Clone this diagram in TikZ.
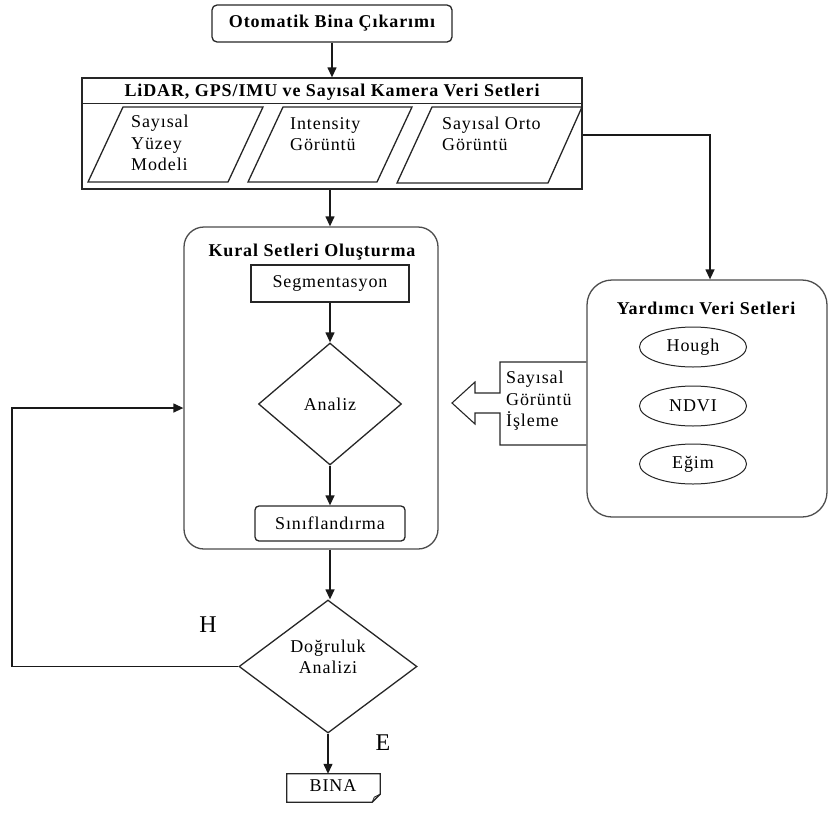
\documentclass[tikz,border=0pt]{standalone}
\usepackage{fontspec}
\setmainfont{Liberation Serif}[LetterSpace=5]
\newfontfamily\plainserif{Liberation Serif}
\usetikzlibrary{arrows.meta,shapes.geometric}
\begin{document}
\begin{tikzpicture}[x=1pt,y=-1pt,
  line/.style={draw=black!85, line width=1.3pt},
  soft/.style={draw=black!70, line width=1.3pt},
  arr/.style={draw=black!90, line width=1.3pt, -{Triangle[length=10pt,width=9pt]}},
  txt/.style={font=\fontsize{18}{21.5}\selectfont, inner sep=0pt},
  ttl/.style={font=\bfseries\fontsize{18}{20}\selectfont, inner sep=0pt},
  big/.style={font=\plainserif\fontsize{24}{24}\selectfont, inner sep=0pt},
]
\useasboundingbox (0,0) rectangle (830,812);
\coordinate (col) at (330,0);

% top box
\node[line, rounded corners=5pt, minimum width=240pt, minimum height=37pt, ttl] (top) at (332,23.5) {Otomatik Bina Çıkarımı};

% data box
\node[line, minimum width=500pt, minimum height=111pt] (data) at (332,133.5) {};
\draw[line] ([yshift=-26pt]data.north west) -- ([yshift=-26pt]data.north east);
\node[ttl] (datattl) at (332,92) {LiDAR, GPS/IMU ve Sayısal Kamera Veri Setleri};

% parallelograms
\draw[line] (88,182) -- (123,107) -- (263,107) -- (228,182) -- cycle;
\draw[line] (248,182) -- (283,107) -- (412,107) -- (377,182) -- cycle;
\draw[line] (397,183) -- (432,107) -- (582,107) -- (548,183) -- cycle;
\node[txt, anchor=west, align=left] (p1t) at (131,143) {Sayısal\\Yüzey\\Modeli};
\node[txt, anchor=west, align=left] (p2t) at (290,134) {Intensity\\Görüntü};
\node[txt, anchor=west, align=left] (p3t) at (442,134) {Sayısal Orto\\Görüntü};

% Kural box
\node[soft, rounded corners=20pt, minimum width=254pt, minimum height=322pt] (kural) at (311,388) {};
\node[ttl] (kuralttl) at (312,252) {Kural Setleri Oluşturma};
\node[line, txt, minimum width=158pt, minimum height=37pt] (seg) at (330,283.5) {Segmentasyon};
\node[line, diamond, txt, minimum width=143pt, minimum height=122pt] (analiz) at (330,404) {Analiz};
\node[line, rounded corners=4pt, txt, minimum width=150pt, minimum height=35pt] (sinif) at (330,523.5) {Sınıflandırma};

% Dogruluk
\node[line, diamond, minimum width=178pt, minimum height=133pt] (dogru) at (328,666.5) {};
\node[txt, align=center] (dogrut) at (328,657) {Doğruluk\\Analizi};

% BINA
\node[minimum width=93pt, minimum height=28pt, inner sep=0pt] (bina) at (333.5,788) {};
\draw[line] (bina.north west) -- (bina.north east) -- ([yshift=8pt]bina.south east) -- ([xshift=-8pt]bina.south east) -- (bina.south west) -- cycle;
\draw[line, line width=0.8pt] ([xshift=-8pt]bina.south east) -- ([xshift=-6pt,yshift=5pt]bina.south east) -- ([yshift=8pt]bina.south east);
\node[txt] (binat) at (333,786) {BINA};

% labels
\node[big] (H) at (208,625) {H};
\node[big] (E) at (383,743) {E};

% Yardimci box
\node[soft, rounded corners=25pt, minimum width=240pt, minimum height=237pt] (yard) at (707,398.5) {};
\node[ttl] (yardttl) at (706,308) {Yardımcı Veri Setleri};
\node[line, line width=1pt, ellipse, txt, minimum width=107pt, minimum height=40pt] (hough) at (693,347) {Hough};
\node[line, line width=1pt, ellipse, txt, minimum width=107pt, minimum height=40pt] (ndvi) at (693,406) {NDVI};
\node[line, line width=1pt, ellipse, txt, minimum width=107pt, minimum height=40pt] (egim) at (693,464) {Eğim};

% block arrow callout
\draw[line, line width=1.1pt] (yard.west |- 0,362) -- (500,362) -- (500,393) -- (475,393) -- (475,382) -- (452,403)
  -- (475,424) -- (475,413) -- (500,413) -- (500,445) -- (yard.west |- 0,445);
\node[txt, anchor=west, align=left] (sgi) at (506,401) {Sayısal\\Görüntü\\İşleme};

% connectors
\draw[arr] (top.south -| data.north) -- (data.north);
\draw[arr] (data.south -| col) -- (kural.north -| col);
\draw[arr] (seg.south) -- (analiz.north);
\draw[arr] (analiz.south) -- (sinif.north);
\draw[arr] (kural.south -| col) -- (dogru.north -| col);
\draw[arr] (dogru.south) -- (dogru.south |- bina.north);
\coordinate (fb) at (12,408);
\draw[arr] (dogru.west) -- (dogru.west -| fb) -- (fb) -- (fb -| kural.west);
\draw[arr] (data.east |- 0,135) -| (yard.north -| 710,0);
\end{tikzpicture}
\end{document}
